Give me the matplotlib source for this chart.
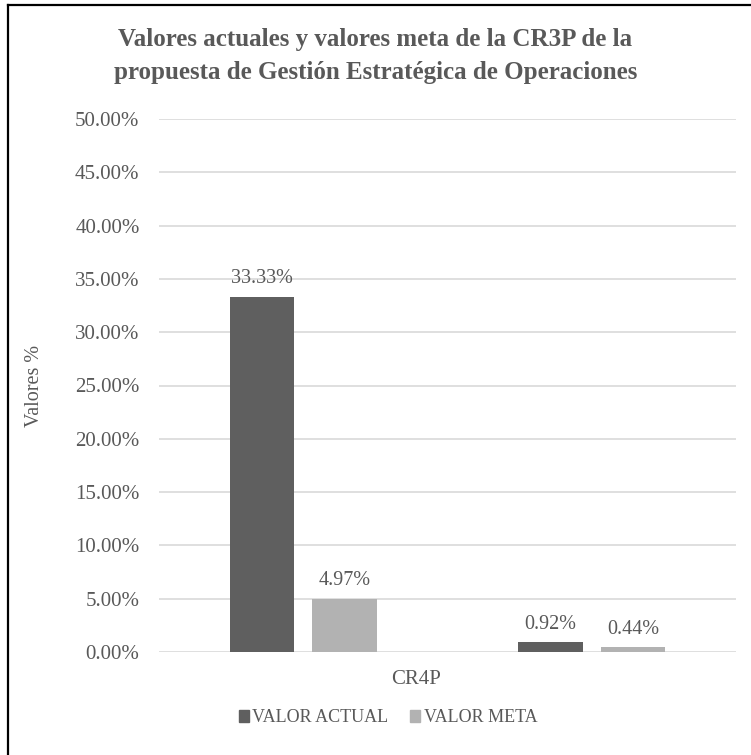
import matplotlib.pyplot as plt
from matplotlib.patches import Patch
from matplotlib.lines import Line2D
from matplotlib.ticker import FuncFormatter

plt.rcParams['font.family'] = ['Liberation Serif', 'DejaVu Serif']

categories = ["CR4P", ""]
valor_actual = [33.33, 0.92]
valor_meta = [4.97, 0.44]
series_names = ["VALOR ACTUAL", "VALOR META"]

dark = '#5f5f5f'
light = '#b2b2b2'
txt = '#595959'

W, H = 751, 755
fig = plt.figure(figsize=(W / 100, H / 100), dpi=100)
ax = fig.add_axes([159 / W, 1 - 652 / H, (736 - 159) / W, (652 - 119) / H])

x = list(range(len(categories)))
bw = 0.222
off = 0.143
ax.bar([i - off for i in x], valor_actual, bw, color=dark, zorder=3)
ax.bar([i + off for i in x], valor_meta, bw, color=light, zorder=3)

for i in x:
    ax.text(i - off, valor_actual[i] + 0.8, f"{valor_actual[i]:.2f}%", ha='center', va='bottom',
            fontsize=14.5, color=txt)
    ax.text(i + off, valor_meta[i] + 0.8, f"{valor_meta[i]:.2f}%", ha='center', va='bottom',
            fontsize=14.5, color=txt)

ax.set_xlim(-0.5, 1.5)
ax.set_ylim(0, 50)
ax.set_yticks(range(0, 51, 5))
ax.yaxis.set_major_formatter(FuncFormatter(lambda v, p: f"{v:.2f}%"))
# single category label sits between the two groups
ax.set_xticks([0.39], [categories[0]])
ax.tick_params(axis='both', length=0, labelsize=15, labelcolor=txt)
ax.tick_params(axis='x', pad=13)
ax.tick_params(axis='y', pad=14)
ax.grid(axis='y', color='#d9d9d9', linewidth=1.2, zorder=0)
for s in ax.spines.values():
    s.set_visible(False)

ax.set_ylabel("Valores %", fontsize=14.5, color=txt, labelpad=22)

fig.text(0.5, 1 - 56 / H, "Valores actuales y valores meta de la CR3P de la\npropuesta de Gestión Estratégica de Operaciones",
         ha='center', va='center', fontsize=18, fontweight='bold', color=txt, linespacing=1.55)

handles = [Patch(color=dark), Patch(color=light)]
fig.legend(handles, series_names, loc='center', bbox_to_anchor=(388 / W, 1 - 718 / H), ncol=2,
           frameon=False, fontsize=13, labelcolor=txt, handlelength=0.55, handleheight=0.6,
           handletextpad=0.2, columnspacing=1.2)

# outer frame (left and top edges visible)
fig.add_artist(Line2D([8 / W, 8 / W], [0, 1 - 5 / H], color='black', linewidth=1.6))
fig.add_artist(Line2D([8 / W, 1], [1 - 5 / H, 1 - 5 / H], color='black', linewidth=1.6))

fig.savefig('out.png', dpi=100)
